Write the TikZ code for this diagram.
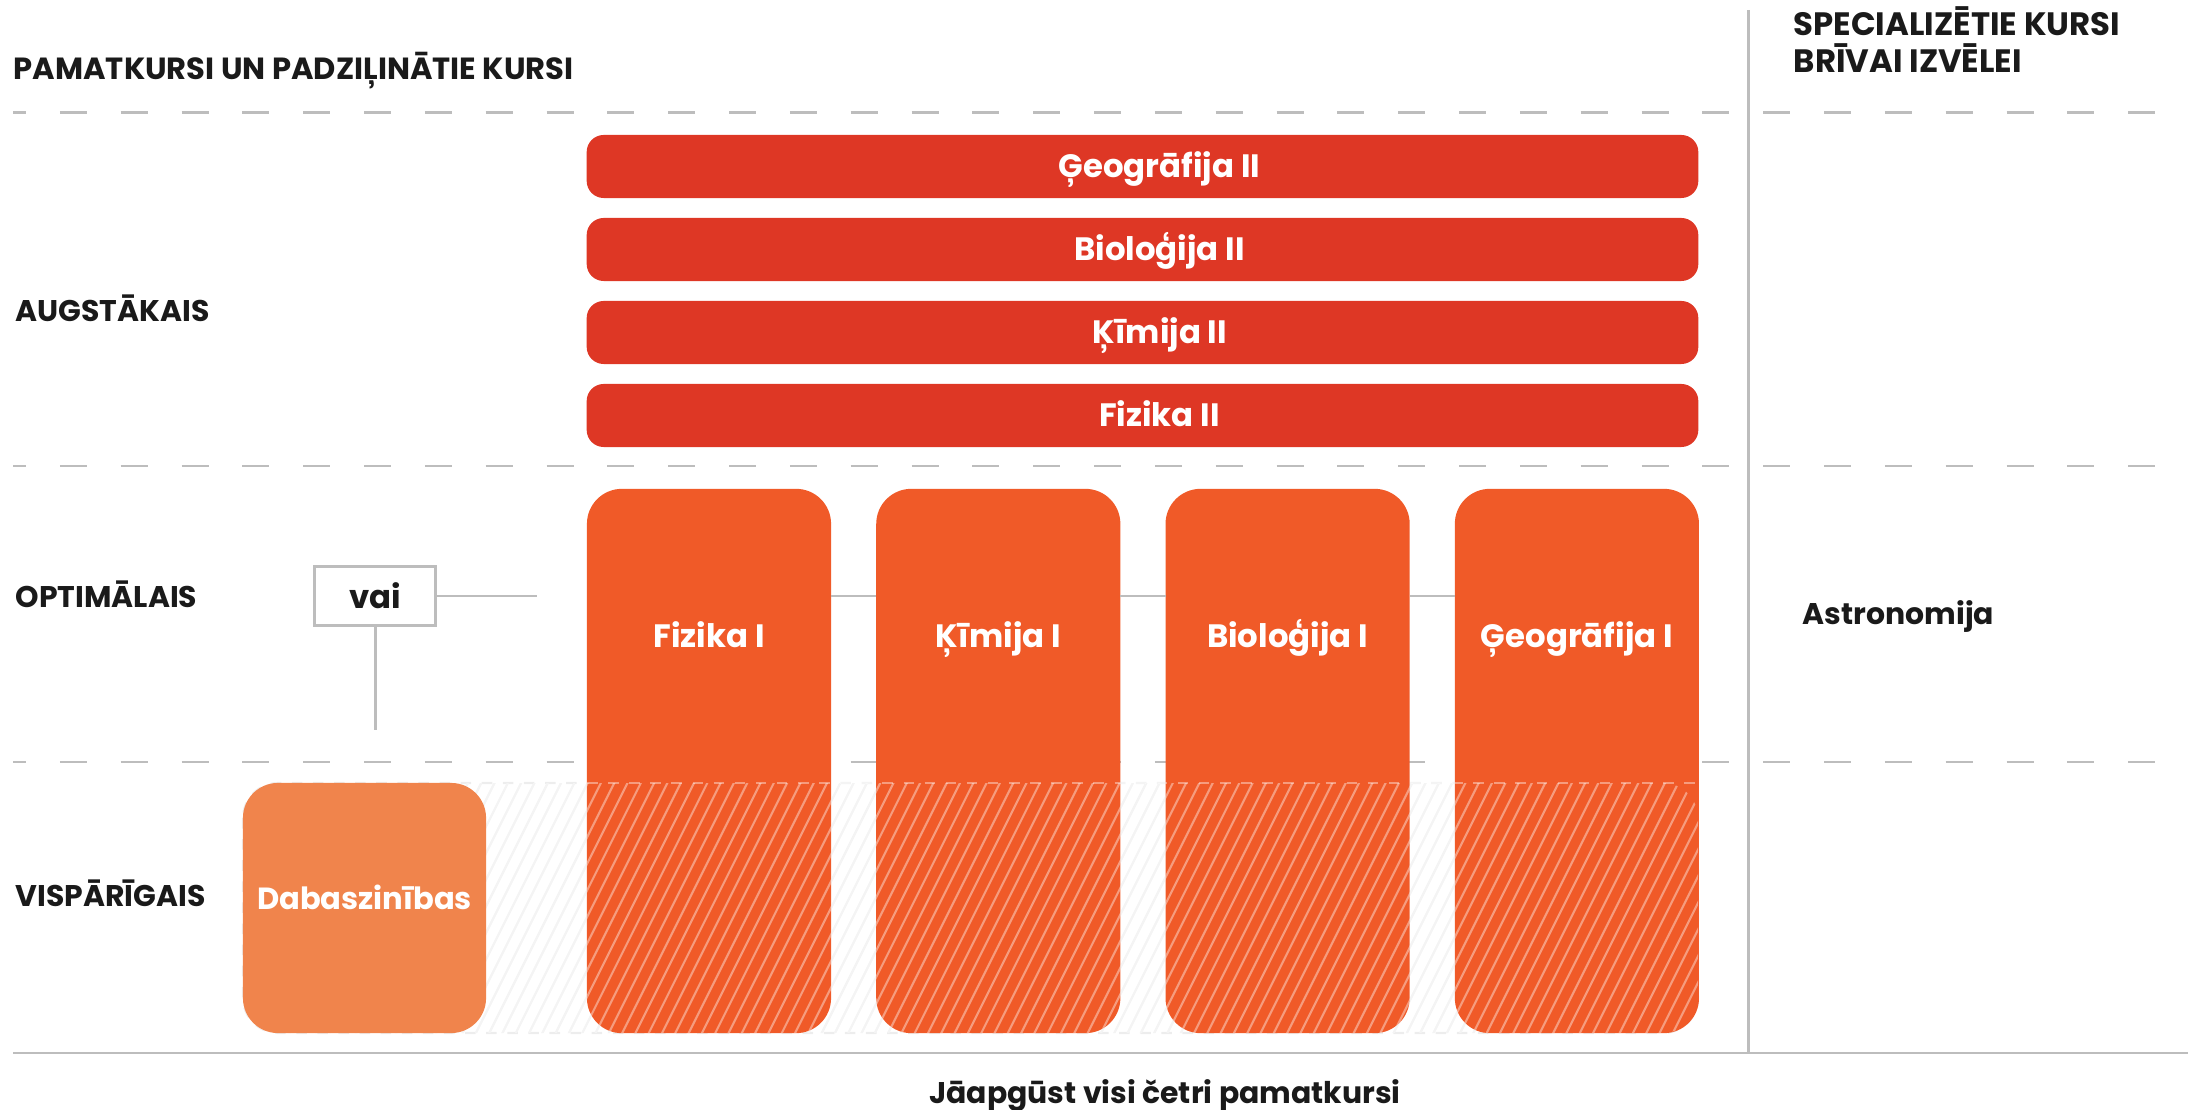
\documentclass[tikz,border=0pt]{standalone}
\usepackage{fontspec}
\setmainfont{Poppins}

\definecolor{barred}{HTML}{DE3725}
\definecolor{boxorange}{HTML}{F05A28}
\definecolor{lightorange}{HTML}{F0844C}
\definecolor{linegray}{HTML}{BDBDBD}
\definecolor{hatchgray}{HTML}{EDEDED}
\definecolor{inkblack}{HTML}{1A1A1A}

\tikzset{
    heading/.style={anchor=base west, inner sep=0pt, text=inkblack, font=\bfseries\fontsize{9.2}{11}\selectfont},
    levellabel/.style={anchor=base west, inner sep=0pt, text=inkblack, font=\bfseries\fontsize{8.5}{10}\selectfont},
    sepline/.style={draw=linegray, line width=0.85pt, dash pattern=on 0.27cm off 0.338cm, dash phase=0.14cm},
    frameline/.style={draw=linegray, line width=0.85pt},
    link/.style={draw=linegray, line width=0.85pt},
    barbox/.style={fill=barred, rounded corners=0.17cm, minimum width=11.11cm, minimum height=0.63cm,
        inner sep=0pt, outer sep=0pt},
    tallbox/.style={fill=boxorange, rounded corners=0.35cm, minimum width=2.44cm, minimum height=5.44cm,
        inner sep=0pt, outer sep=0pt},
    boxtext/.style={text=white, inner sep=0pt, text height=6.4pt, text depth=0pt,
        font=\bfseries\fontsize{9.2}{11}\selectfont},
    vaibox/.style={draw=linegray, line width=0.85pt, fill=white, minimum width=1.2cm, minimum height=0.59cm,
        inner sep=0pt, text=inkblack, font=\bfseries\fontsize{9.2}{11}\selectfont},
    hatchline/.style={line width=0.6pt},
}

\begin{document}
\begin{tikzpicture}[x=0.01cm, y=-0.01cm]
    \useasboundingbox (0,0) rectangle (2188,1110);

    % Headings
    \node[heading, font=\bfseries\fontsize{8.7}{11}\selectfont] (hdleft) at (13,80) {PAMATKURSI UN PADZIĻINĀTIE KURSI};
    \node[heading] (hdrightA) at (1793,36) {SPECIALIZĒTIE KURSI};
    \node[heading] (hdrightB) at (1793,73) {BRĪVAI IZVĒLEI};

    % Level separators and frame
    \draw[sepline] (13,113) -- (2188,113);
    \draw[sepline] (13,466) -- (2188,466);
    \draw[sepline] (13,762) -- (2188,762);
    \draw[frameline] (1748,10) -- (1748,1053);
    \draw[frameline] (13,1053) -- (2188,1053);

    % Level names
    \node[levellabel] (augst) at (15,322) {AUGSTĀKAIS};
    \node[levellabel] (optim) at (15,607) {OPTIMĀLAIS};
    \node[levellabel] (visp) at (15,906) {VISPĀRĪGAIS};
    \node[levellabel] (astro) at (1802,625) {Astronomija};

    % Hatched band behind the courses (light grey)
    \begin{scope}
        \clip[rounded corners=0.35cm] (243,783) rectangle (1698,1033);
        \foreach \x in {100,113.3,...,1710}
            \draw[hatchline, hatchgray] (\x,1040) -- ++(130,-260);
    \end{scope}
    \draw[hatchgray, line width=0.6pt, dashed, rounded corners=0.35cm] (243,783) rectangle (1698,1033);

    % Higher level courses
    \foreach \i/\nm/\txt in {0/geoII/Ģeogrāfija II, 1/bioII/Bioloģija II, 2/kimII/Ķīmija II, 3/fizII/Fizika II} {
        \node[barbox] (\nm) at (1142.5,166.5+83*\i) {};
        \node[boxtext] (\nm txt) at ([xshift=0.17cm]\nm.center) {\txt};
    }

    % "vai" choice
    \node[vaibox] (vai) at (375,596) {vai};
    \coordinate (vaiend) at (537,596);
    \coordinate (vaidown) at (375,730);
    \draw[link] (vai.east) -- (vaiend);
    \draw[link] (vai.south) -- (vaidown);

    % Optimal level courses
    \foreach \i/\nm in {0/fizI, 1/kimI, 2/bioI, 3/geoI}
        \node[tallbox] (\nm) at (709+289.3*\i,761) {};
    \draw[link] (fizI.east |- vai.east) -- (kimI.west |- vai.east);
    \draw[link] (kimI.east |- vai.east) -- (bioI.west |- vai.east);
    \draw[link] (bioI.east |- vai.east) -- (geoI.west |- vai.east);
    \foreach \nm/\txt in {fizI/Fizika I, kimI/Ķīmija I, bioI/Bioloģija I, geoI/Ģeogrāfija I}
        \node[boxtext] (\nm txt) at ([yshift=-1.47cm]\nm.north) {\txt};

    % Hatch over the orange part
    \begin{scope}
        \clip[rounded corners=0.35cm] (243,783) rectangle (1698,1033);
        \foreach \x in {100,113.3,...,1710}
            \draw[hatchline, white, opacity=0.4] (\x,1040) -- ++(130,-260);
    \end{scope}
    \draw[white, opacity=0.4, line width=0.6pt, dashed, rounded corners=0.35cm] (587,783) -- (1698,783);

    % General level course
    \node[tallbox, fill=lightorange, minimum width=2.43cm, minimum height=2.5cm] (dabas) at (364.5,908) {};
    \node[boxtext, font=\bfseries\fontsize{8.7}{11}\selectfont] (dabastxt) at ([yshift=0.1cm]dabas.center) {Dabaszinības};

    % Footer
    \node[levellabel, anchor=base] (footer) at (1165,1103) {Jāapgūst visi četri pamatkursi};
\end{tikzpicture}
\end{document}
